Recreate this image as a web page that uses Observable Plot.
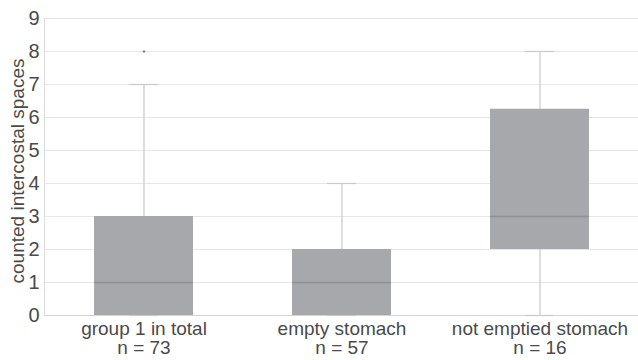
<!DOCTYPE html>
<html>
<head>
<meta charset="utf-8">
<script src="https://cdn.jsdelivr.net/npm/d3@7"></script>
<script src="https://cdn.jsdelivr.net/npm/@observablehq/plot@0.6"></script>
<style>
  html, body { margin: 0; padding: 0; background: #fff; }
  #chart svg { display: block; }
</style>
</head>
<body>
<div id="chart"></div>
<script>
const categories = ["group 1 in total", "empty stomach", "not emptied stomach"];
const nValues = [73, 57, 16];
const whiskerLow = [0, 0, 0];
const q1 = [0, 0, 2];
const median = [1, 1, 3];
const q3 = [3, 2, 6.25];
const whiskerHigh = [7, 4, 8];
const outlierCategories = ["group 1 in total"];
const outlierValues = [8];
const yTicks = [0, 1, 2, 3, 4, 5, 6, 7, 8, 9];
const yLabel = "counted intercostal spaces";

const boxes = categories.map((c, i) => ({
  cat: c, lo: whiskerLow[i], q1: q1[i], med: median[i], q3: q3[i], hi: whiskerHigh[i]
}));
const outliers = outlierCategories.map((c, i) => ({cat: c, v: outlierValues[i]}));
const labelOf = new Map(categories.map((c, i) => [c, `${c}\nn = ${nValues[i]}`]));

const textColor = "#4a4a4a";
const font = "'Liberation Sans', Arial, Helvetica, sans-serif";

const chart = Plot.plot({
  width: 638,
  height: 360,
  marginLeft: 44,
  marginRight: 0,
  marginTop: 18,
  marginBottom: 45,
  style: {fontFamily: font, fontSize: "19px", color: textColor, background: "#fff"},
  x: {domain: categories, paddingInner: 0.5, paddingOuter: 0.25, label: null},
  y: {domain: [0, 9], label: null},
  marks: [
    Plot.ruleY(yTicks, {stroke: "#e6e6e6", strokeWidth: 1}),
    Plot.ruleY([0], {stroke: "#d4d4d4", strokeWidth: 1}),
    Plot.frame({anchor: "left", stroke: "#dcdcdc"}),
    Plot.ruleX(boxes, {x: "cat", y1: "lo", y2: "hi", stroke: "#c9c9c9", strokeWidth: 1.2}),
    Plot.tickY(boxes, {x: "cat", y: "hi", stroke: "#c9c9c9", strokeWidth: 1.2, insetLeft: 35, insetRight: 35}),
    Plot.tickY(boxes, {x: "cat", y: "lo", stroke: "#c9c9c9", strokeWidth: 1.2, insetLeft: 35, insetRight: 35}),
    Plot.barY(boxes, {x: "cat", y1: "q1", y2: "q3", fill: "#a7a8ab"}),
    Plot.tickY(boxes, {x: "cat", y: "med", stroke: "#909194", strokeWidth: 1.5}),
    Plot.dot(outliers, {x: "cat", y: "v", r: 1.3, fill: "#8a8a8a", stroke: null}),
    Plot.axisY({ticks: yTicks, tickSize: 0, tickPadding: 5, fontSize: 20, tickFormat: d => String(d), label: null, color: textColor}),
    Plot.axisX({tickSize: 0, tickPadding: 6, fontSize: 19, lineHeight: 1.0, tickFormat: d => labelOf.get(d), label: null, color: textColor}),
    Plot.text([yLabel], {frameAnchor: "left", rotate: -90, dx: -27, dy: 4, textAnchor: "middle", lineAnchor: "middle", fontSize: 19, fill: textColor, text: d => d})
  ]
});
document.getElementById("chart").appendChild(chart);
</script>
</body>
</html>
